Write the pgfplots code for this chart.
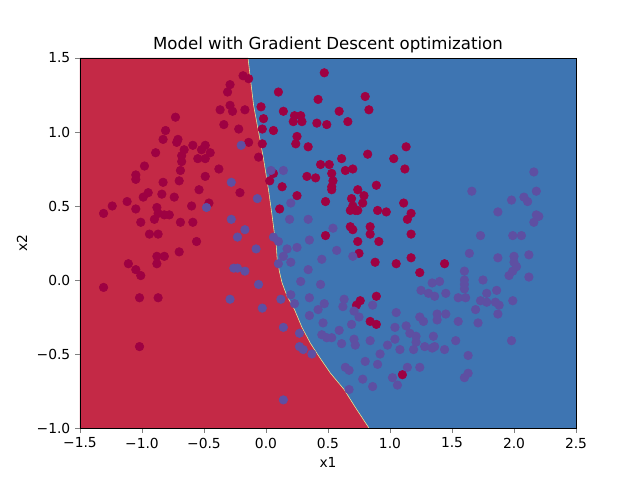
\documentclass[border=0pt]{standalone}
\usepackage{pgfplots}
\pgfplotsset{compat=1.18}
\usepackage{fontspec}
\setmainfont{DejaVu Sans}

\definecolor{regred}{RGB}{196,41,70}
\definecolor{regblue}{RGB}{62,117,178}
\definecolor{ptred}{HTML}{9E0142}
\definecolor{ptblue}{HTML}{5E4FA2}
\definecolor{edge}{RGB}{230,240,150}

\begin{document}
\begin{tikzpicture}
\path[use as bounding box] (-0.8in,-0.52in) rectangle (5.6in,4.28in);
\begin{axis}[
    at={(0,0)}, anchor=south west,
    scale only axis,
    width=4.96in, height=3.7in,
    xmin=-1.5, xmax=2.5, ymin=-1, ymax=1.5,
    xtick={-1.5,-1,-0.5,0,0.5,1,1.5,2,2.5},
    xticklabels={−1.5,−1.0,−0.5,0.0,0.5,1.0,1.5,2.0,2.5},
    ytick={-1,-0.5,0,0.5,1,1.5},
    yticklabels={−1.0,−0.5,0.0,0.5,1.0,1.5},
    tick align=outside, major tick length=3.5pt,
    xtick pos=left, ytick pos=left,
    tick label style={font=\fontsize{10}{12}\selectfont},
    xlabel={x1}, ylabel={x2},
    label style={font=\fontsize{10}{12}\selectfont},
    title={Model with Gradient Descent optimization},
    title style={font=\fontsize{12}{14}\selectfont, yshift=-6pt},
    axis background/.style={fill=regblue},
    axis on top,
]
% red decision region (fill closes the path)
\addplot[fill=regred, draw=none] coordinates {
(-1.5,-1) (-1.5,1.5) (-0.145,1.5) (-0.12,1.32) (-0.10,1.18) (-0.06,1.00)
(-0.02,0.82) (0.02,0.61) (0.05,0.43) (0.07,0.30) (0.08,0.27) (0.09,0.14)
(0.11,0.05) (0.13,-0.02) (0.17,-0.11) (0.23,-0.20) (0.29,-0.32) (0.36,-0.43)
(0.43,-0.52) (0.52,-0.63) (0.63,-0.74) (0.72,-0.86) (0.83,-1.0)
};
% boundary edge
\addplot[edge, line width=0.4pt] coordinates {
(-0.145,1.5) (-0.12,1.32) (-0.10,1.18) (-0.06,1.00)
(-0.02,0.82) (0.02,0.61) (0.05,0.43) (0.07,0.30) (0.08,0.27) (0.09,0.14)
(0.11,0.05) (0.13,-0.02) (0.17,-0.11) (0.23,-0.20) (0.29,-0.32) (0.36,-0.43)
(0.43,-0.52) (0.52,-0.63) (0.63,-0.74) (0.72,-0.86) (0.83,-1.0)
};
% class 0
\addplot[only marks, mark=*, mark size=3.1pt, color=ptred] coordinates {
(-0.185,1.38) (-0.14,1.36) (-0.29,1.32) (-0.31,1.27) (-0.37,1.15) (-0.29,1.18)
(-0.27,1.14) (-0.17,1.15) (-0.34,1.05) (-0.22,1.02) (-0.73,1.10) (-0.81,1.01)
(-0.83,0.95) (-0.71,0.95) (-0.72,0.93) (-0.59,0.91) (-0.49,0.91) (-0.52,0.88)
(-0.45,0.86) (-0.66,0.88) (-0.68,0.84) (-0.68,0.80) (-0.55,0.82) (-0.49,0.82)
(-0.89,0.86) (-0.98,0.77) (-1.05,0.71) (-1.05,0.68) (-0.69,0.74) (-0.38,0.75)
(-0.49,0.70) (-0.70,0.67) (-0.83,0.66) (-0.54,0.61) (-0.21,0.59) (-0.95,0.59)
(-0.99,0.56) (-0.84,0.58) (-0.74,0.56) (-1.12,0.53) (-1.24,0.50) (-1.31,0.45)
(-1.05,0.48) (-0.88,0.49) (-0.60,0.50) (-0.46,0.52) (-0.87,0.45) (-0.82,0.44)
(-0.78,0.44) (-0.90,0.41) (-1.01,0.39) (-0.69,0.39) (-0.59,0.39) (-0.94,0.31)
(-0.87,0.31) (-0.56,0.26) (-1.11,0.11) (-1.05,0.07) (-1.01,0.03) (-0.88,0.16)
(-0.82,0.16) (-0.88,0.11) (-0.70,0.19) (-1.31,-0.05) (-1.02,-0.12) (-0.87,-0.12)
(-1.02,-0.45)
(0.47,1.40) (0.10,1.27) (0.42,1.22) (0.80,1.24) (0.83,1.15) (-0.04,1.17)
(0.14,1.14) (0.23,1.11) (0.28,1.11) (0.22,1.07) (0.29,1.07) (-0.02,1.09)
(0.41,1.06) (0.49,1.05) (0.59,1.14) (0.66,1.07) (-0.03,1.02) (0.06,1.01)
(0.25,0.97) (0.24,0.92) (0.34,0.90) (-0.14,0.93) (-0.03,0.92) (-0.06,0.83)
(0.44,0.78) (0.51,0.78) (0.61,0.82) (0.64,0.74) (0.70,0.75) (0.53,0.72)
(0.33,0.70) (0.40,0.69) (0.06,0.72) (0.03,0.67) (0.54,0.67) (0.53,0.63)
(0.53,0.61) (0.13,0.63) (0.82,0.85) (1.03,0.82) (1.13,0.90) (1.12,0.75)
(0.89,0.64) (0.74,0.61) (0.25,0.57) (0.79,0.57) (0.69,0.55) (0.78,0.52)
(0.48,0.53) (0.11,0.48) (0.68,0.47) (0.72,0.47) (0.74,0.47) (0.70,0.50)
(0.90,0.47) (0.97,0.46) (1.11,0.52) (1.14,0.41) (1.17,0.45) (0.68,0.36)
(0.70,0.34) (0.84,0.36) (0.84,0.31) (0.48,0.30) (0.74,0.26) (0.91,0.26)
(1.17,0.31) (0.75,0.18) (0.88,0.12) (1.05,0.11) (1.17,0.15) (0.89,-0.11)
(0.76,-0.14) (0.73,-0.17) (0.84,-0.28) (0.89,-0.30) (1.10,-0.64) (1.24,0.05)
(1.44,0.11)
};
% class 1
\addplot[only marks, mark=*, mark size=3.1pt, color=ptblue] coordinates {
(-0.20,0.91) (-0.28,0.66) (-0.48,0.49) (-0.28,0.41) (-0.17,0.34) (-0.23,0.29)
(-0.26,0.08) (-0.23,0.08) (-0.17,0.06) (-0.29,-0.13) (0.04,0.74) (0.14,0.74)
(-0.07,0.55) (0.20,0.52) (0.19,0.41) (0.34,0.41) (0.54,0.35) (0.06,0.29)
(0.10,0.26) (0.35,0.27) (-0.08,0.21) (0.17,0.21) (0.25,0.22) (0.57,0.20)
(0.70,0.16) (0.14,0.16) (0.10,0.11) (0.20,0.12) (0.45,0.14) (0.34,0.07)
(-0.06,-0.03) (0.28,-0.01) (0.44,-0.03) (0.20,-0.10) (0.12,-0.13) (0.23,-0.16)
(0.35,-0.12) (0.47,-0.16) (0.63,-0.13) (0.62,-0.18) (0.42,-0.20) (0.35,-0.24)
(0.71,-0.21) (0.75,-0.25) (0.86,-0.17) (-0.03,-0.19) (0.46,-0.29) (0.69,-0.30)
(1.05,-0.22) (0.14,-0.32) (0.27,-0.36) (0.45,-0.37) (0.49,-0.39) (0.53,-0.39)
(0.59,-0.34) (0.61,-0.43) (0.71,-0.40) (0.72,-0.44) (0.84,-0.41) (1.04,-0.32)
(1.13,-0.31) (1.04,-0.40) (0.98,-0.44) (1.08,-0.47) (0.92,-0.50) (0.27,-0.45)
(0.30,-0.47) (0.37,-0.50) (0.80,-0.55) (0.90,-0.57) (0.64,-0.59) (0.67,-0.61)
(0.78,-0.67) (0.86,-0.72) (0.67,-0.74) (1.02,-0.66) (1.06,-0.71) (1.14,-0.59)
(0.14,-0.81)
(1.64,0.18) (1.87,0.15) (2.00,0.16) (2.12,0.17) (2.00,0.12) (2.02,0.09)
(1.99,0.06) (1.96,0.03) (2.12,0.02) (1.60,0.06) (1.60,0.00) (1.60,-0.03)
(1.60,-0.06) (1.75,0.00) (1.34,-0.02) (1.40,-0.01) (1.25,-0.07) (1.31,-0.09)
(1.36,-0.11) (1.45,-0.09) (1.55,-0.12) (1.61,-0.12) (1.78,-0.09) (1.86,-0.07)
(1.73,-0.14) (1.78,-0.15) (1.85,-0.15) (1.88,-0.17) (1.99,-0.14) (1.69,-0.20)
(1.87,-0.23) (1.24,-0.25) (1.27,-0.28) (1.38,-0.23) (1.38,-0.27) (1.45,-0.23)
(1.55,-0.28) (1.71,-0.29) (1.16,-0.36) (1.21,-0.38) (1.21,-0.42) (1.35,-0.38)
(1.28,-0.45) (1.34,-0.46) (1.36,-0.45) (1.19,-0.47) (1.44,-0.47) (1.53,-0.41)
(1.98,-0.41) (1.63,-0.51) (1.24,-0.59) (1.63,-0.63) (1.60,-0.66)
(2.16,0.73) (2.18,0.60) (1.66,0.60) (1.98,0.54) (2.08,0.56) (2.11,0.53)
(1.87,0.46) (2.18,0.44) (2.20,0.43) (2.16,0.39) (1.73,0.30) (1.99,0.30)
(2.06,0.30)
};
\end{axis}
\end{tikzpicture}
\end{document}
